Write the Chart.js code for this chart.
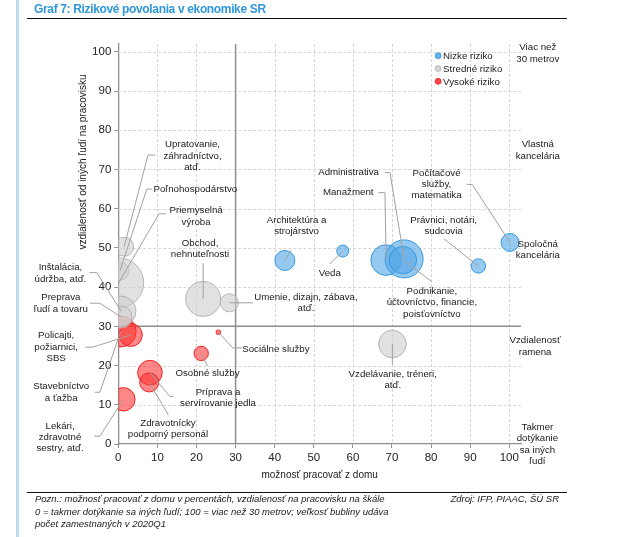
<!DOCTYPE html>
<html lang="sk">
<head>
<meta charset="utf-8">
<script src="https://cdn.jsdelivr.net/npm/chart.js@4.4.1/dist/chart.umd.min.js"></script>
<style>
html,body{margin:0;padding:0;background:#fff;}
#page{position:relative;width:622px;height:537px;overflow:hidden;font-family:"Liberation Sans",Arial,sans-serif;color:#1a1a1a;background:#fff;}
#chartbox{position:absolute;left:0;top:0;width:622px;height:537px;}
#bar{position:absolute;left:16px;top:0;width:3px;height:537px;background:#b9dcf4;}
#title{position:absolute;left:34px;top:1px;font-size:12px;line-height:16px;font-weight:bold;color:#2f97da;letter-spacing:-0.35px;white-space:nowrap;}
.rule{position:absolute;left:27px;width:540px;height:1px;background:#111;}
#note{position:absolute;left:35px;top:493px;font-size:9.5px;line-height:12.7px;font-style:italic;white-space:nowrap;}
#source{position:absolute;right:63px;top:493px;font-size:9.5px;line-height:12.7px;font-style:italic;white-space:nowrap;}
</style>
</head>
<body>
<div id="page">
  <div id="chartbox"><canvas id="c"></canvas></div>
  <div id="bar"></div>
  <div id="title">Graf 7: Rizikové povolania v ekonomike SR</div>
  <div class="rule" style="top:18px"></div>
  <div class="rule" style="top:492px"></div>
  <div id="note">Pozn.: možnosť pracovať z domu v percentách, vzdialenosť na pracovisku na škále<br>0 = takmer dotýkanie sa iných ľudí; 100 = viac než 30 metrov; veľkosť bubliny udáva<br>počet zamestnaných v 2020Q1</div>
  <div id="source">Zdroj: IFP, PIAAC, ŠÚ SR</div>
</div>
<script>
// ---- data ----
const xTicks = [0, 10, 20, 30, 40, 50, 60, 70, 80, 90, 100];
const yTicks = [0, 10, 20, 30, 40, 50, 60, 70, 80, 90, 100];
const riskGroups = ['Nizke riziko', 'Stredné riziko', 'Vysoké riziko'];

const lowRiskNames = ['Architektúra a strojárstvo', 'Veda', 'Manažment', 'Administrativa',
  'Podnikanie, účtovníctvo, financie, poisťovníctvo', 'Právnici, notári, sudcovia', 'Počítačové služby, matematika'];
const lowRiskHome = [42.6, 57.4, 68.5, 73.1, 72.8, 92.1, 100.2];
const lowRiskDistance = [46.8, 49.2, 46.9, 47.2, 46.9, 45.4, 51.4];
const lowRiskSize = [10, 6, 15.3, 19, 13.7, 7.2, 9];

const midRiskNames = ['Upratovanie, záhradníctvo, atď.', 'Poľnohospodárstvo', 'Priemyselná výroba',
  'Inštalácia, údržba, atď.', 'Preprava ľudí a tovaru', 'Obchod, nehnuteľnosti', 'Umenie, dizajn, zábava, atď.',
  'Vzdelávanie, tréneri, atď.'];
const midRiskHome = [1.5, 0.4, 0.1, 0.7, 0.7, 21.7, 28.4, 70.1];
const midRiskDistance = [50.3, 44.1, 41.1, 33.9, 32.4, 37.0, 36.0, 25.5];
const midRiskSize = [9.5, 9, 25, 15, 11, 17.5, 9, 13.8];

const highRiskNames = ['Stavebníctvo a ťažba', 'Policajti, požiarnici, SBS', 'Lekári, zdravotné sestry, atď.',
  'Príprava a servírovanie jedla', 'Zdravotnícky podporný personál', 'Osobné služby', 'Sociálne služby'];
const highRiskHome = [0.6, 3.2, 1.3, 8.1, 7.9, 21.2, 25.6];
const highRiskDistance = [28.7, 27.8, 11.4, 18.2, 15.7, 23.1, 28.5];
const highRiskSize = [15.5, 11.5, 11.7, 12.3, 9.5, 7.2, 2.3];

// ---- annotation layout (data units) ----
const bubbleLabels = [
  {lines: ['Upratovanie,', 'záhradníctvo,', 'atď.'], at: [19.0, 76.3], leader: [[9.4, 73.7], [7.6, 73.7]], target: [1, 0]},
  {lines: ['Poľnohospodárstvo'], at: [19.7, 65.0], leader: [[8.6, 65.0], [7.3, 65.0]], target: [1, 1]},
  {lines: ['Priemyselná', 'výroba'], at: [19.9, 59.5], leader: [[12.2, 58.7], [10.4, 58.7]], target: [1, 2]},
  {lines: ['Obchod,', 'nehnuteľnosti'], at: [20.9, 51.2], leader: [[21.7, 46.1]], target: [1, 5]},
  {lines: ['Architektúra a', 'strojárstvo'], at: [45.6, 57.1], leader: [[44.2, 49.5]], target: [0, 0]},
  {lines: ['Administrativa'], at: [58.9, 69.2], leader: [[68.2, 69.2], [69.5, 69.2]], target: [0, 3]},
  {lines: ['Manažment'], at: [58.8, 64.1], leader: [[66.5, 64.1], [68.2, 64.1]], target: [0, 2]},
  {lines: ['Počítačové', 'služby,', 'matematika'], at: [81.4, 69.1], leader: [[89.1, 66.2], [90.5, 66.2]], target: [0, 6]},
  {lines: ['Právnici, notári,', 'sudcovia'], at: [83.2, 57.1], leader: [[83.3, 52.3]], target: [0, 5]},
  {lines: ['Veda'], at: [54.1, 43.5], leader: [[54.1, 45.9]], target: [0, 1]},
  {lines: ['Podnikanie,', 'účtovníctvo, financie,', 'poisťovníctvo'], at: [80.2, 39.0], leader: [[80.2, 41.4]], target: [0, 4]},
  {lines: ['Umenie, dizajn, zábava,', 'atď.'], at: [48.0, 37.4], leader: [[34.4, 36.0]], target: [1, 6]},
  {lines: ['Sociálne služby'], at: [40.3, 24.2], leader: [[31.6, 24.5], [29.3, 24.5]], target: [2, 6]},
  {lines: ['Osobné služby'], at: [22.8, 18.0], leader: [[22.8, 19.9]], target: [2, 5]},
  {lines: ['Príprava a', 'servírovanie jedla'], at: [25.5, 13.3], leader: [[14.1, 12.1], [13.2, 12.1]], target: [2, 3]},
  {lines: ['Zdravotnícky', 'podporný personál'], at: [12.7, 5.4], leader: [[12.8, 7.4]], target: [2, 4]},
  {lines: ['Vzdelávanie, tréneri,', 'atď.'], at: [70.2, 17.8], leader: [[70.1, 20.2]], target: [1, 7]},
  {lines: ['Inštalácia,', 'údržba, atď.'], at: [-14.8, 45.0], leader: [[-7.4, 43.7], [-5.5, 43.7]], target: [1, 3]},
  {lines: ['Preprava', 'ľudí a tovaru'], at: [-14.7, 37.3], leader: [[-7.2, 35.9], [-4.7, 35.9]], target: [1, 4]},
  {lines: ['Policajti,', 'požiarnici,', 'SBS'], at: [-15.9, 27.6], leader: [[-8.5, 24.7], [-6.5, 24.7]], target: [2, 1]},
  {lines: ['Stavebníctvo', 'a ťažba'], at: [-14.6, 14.6], leader: [[-6.0, 13.2], [-4.7, 13.2]], target: [2, 0]},
  {lines: ['Lekári,', 'zdravotné', 'sestry, atď.'], at: [-14.9, 4.6], leader: [[-6.2, 2.0], [-4.7, 2.0]], target: [2, 2]}
];
const distanceLabels = [
  {lines: ['Viac než', '30 metrov'], at: [107.3, 101.1]},
  {lines: ['Vlastná', 'kancelária'], at: [107.3, 76.3]},
  {lines: ['Spoločná', 'kancelária'], at: [107.3, 50.9]},
  {lines: ['Vzdialenosť', 'ramena'], at: [106.6, 26.4]},
  {lines: ['Takmer', 'dotýkanie', 'sa iných', 'ľudí'], at: [107.2, 4.3]}
];
const legendAt = [81.8, 99.0];
const xTitle = 'možnosť pracovať z domu';
const yTitle = 'vzdialenosť od iných ľudí na pracovisku';

// ---- styles ----
const FONT = '"Liberation Sans", Arial, sans-serif';
const TEXT = '#1a1a1a';
const fills = ['rgba(86,168,230,0.62)', 'rgba(206,206,206,0.62)', 'rgba(255,48,48,0.58)'];
const borders = ['rgba(45,150,222,0.95)', 'rgba(178,178,178,0.95)', 'rgba(238,28,28,0.95)'];
const LINE_H = 11.4;

function pts(xs, ys, rs) { return xs.map((x, i) => ({x: x, y: ys[i], r: rs[i]})); }

const annotPlugin = {
  id: 'annot',
  beforeDatasetsDraw(chart) {
    const {ctx, chartArea: a, scales: {x, y}} = chart;
    ctx.save();
    ctx.lineWidth = 1;
    ctx.strokeStyle = '#d6d6d6';
    ctx.setLineDash([3, 2]);
    xTicks.forEach(v => {
      if (v === 0 || v === 30) return;
      const px = Math.round(x.getPixelForValue(v)) + 0.5;
      ctx.beginPath(); ctx.moveTo(px, a.top); ctx.lineTo(px, a.bottom); ctx.stroke();
    });
    yTicks.forEach(v => {
      if (v === 0 || v === 30) return;
      const py = Math.round(y.getPixelForValue(v)) + 0.5;
      ctx.beginPath(); ctx.moveTo(a.left, py); ctx.lineTo(a.right, py); ctx.stroke();
    });
    ctx.setLineDash([]);
    ctx.strokeStyle = '#8f8f8f';
    ctx.lineWidth = 1.5;
    const qx = x.getPixelForValue(30), qy = y.getPixelForValue(30);
    ctx.beginPath(); ctx.moveTo(qx, a.top); ctx.lineTo(qx, a.bottom); ctx.stroke();
    ctx.beginPath(); ctx.moveTo(a.left, qy); ctx.lineTo(a.right, qy); ctx.stroke();
    ctx.restore();
  },
  afterDatasetsDraw(chart) {
    const {ctx, chartArea: a, scales: {x, y}} = chart;
    const ds = chart.data.datasets;
    ctx.save();
    // leaders
    ctx.strokeStyle = '#a0a0a0';
    ctx.lineWidth = 1;
    bubbleLabels.forEach(l => {
      const p = ds[l.target[0]].data[l.target[1]];
      ctx.beginPath();
      l.leader.forEach((q, i) => {
        const px = x.getPixelForValue(q[0]), py = y.getPixelForValue(q[1]);
        if (i === 0) ctx.moveTo(px, py); else ctx.lineTo(px, py);
      });
      ctx.lineTo(x.getPixelForValue(p.x), y.getPixelForValue(p.y));
      ctx.stroke();
    });
    // texts
    ctx.fillStyle = TEXT;
    ctx.font = '9.7px ' + FONT;
    ctx.textAlign = 'center';
    ctx.textBaseline = 'middle';
    bubbleLabels.concat(distanceLabels).forEach(l => {
      const px = x.getPixelForValue(l.at[0]), py = y.getPixelForValue(l.at[1]);
      l.lines.forEach((t, i) => ctx.fillText(t, px, py + i * LINE_H));
    });
    // legend
    const lx = x.getPixelForValue(legendAt[0]), ly = y.getPixelForValue(legendAt[1]);
    ctx.textAlign = 'left';
    riskGroups.forEach((g, i) => {
      const cy = ly + i * 12.8;
      ctx.beginPath(); ctx.arc(lx, cy, 3, 0, Math.PI * 2);
      ctx.fillStyle = fills[i].replace(/[\d.]+\)$/, '0.9)'); ctx.fill();
      ctx.strokeStyle = borders[i]; ctx.lineWidth = 0.8; ctx.stroke();
      ctx.fillStyle = TEXT;
      ctx.fillText(g, lx + 5, cy + 0.5);
    });
    // axis titles
    ctx.font = '10px ' + FONT;
    ctx.textAlign = 'center';
    ctx.fillText(xTitle, (a.left + a.right) / 2, a.bottom + 31);
    ctx.translate(a.left - 35, a.top + 118);
    ctx.rotate(-Math.PI / 2);
    ctx.fillText(yTitle, 0, 0);
    ctx.restore();
  }
};

function fixedAxis(size, isY) {
  return function (scale) {
    if (isY) scale.width = size; else scale.height = size;
    scale.paddingLeft = 0; scale.paddingRight = 0; scale.paddingTop = 0; scale.paddingBottom = 0;
  };
}

new Chart(document.getElementById('c'), {
  type: 'bubble',
  data: {
    datasets: [
      {label: riskGroups[0], data: pts(lowRiskHome, lowRiskDistance, lowRiskSize), names: lowRiskNames},
      {label: riskGroups[1], data: pts(midRiskHome, midRiskDistance, midRiskSize), names: midRiskNames},
      {label: riskGroups[2], data: pts(highRiskHome, highRiskDistance, highRiskSize), names: highRiskNames}
    ].map((d, i) => Object.assign(d, {backgroundColor: fills[i], borderColor: borders[i], borderWidth: 1, clip: 0}))
  },
  options: {
    responsive: true,
    maintainAspectRatio: false,
    animation: false,
    events: [],
    layout: {padding: {left: 73.3, right: 101, top: 44, bottom: 63}},
    plugins: {legend: {display: false}, tooltip: {enabled: false}},
    scales: {
      x: {
        type: 'linear', min: 0, max: 103,
        afterBuildTicks: s => { s.ticks = xTicks.map(v => ({value: v})); },
        afterFit: fixedAxis(30, false),
        ticks: {font: {family: FONT, size: 11.5}, color: '#222', padding: 3, maxRotation: 0, autoSkip: false},
        grid: {drawOnChartArea: false, drawTicks: true, tickLength: 4, tickColor: '#8f8f8f', lineWidth: 1},
        border: {color: '#8f8f8f', width: 1.3}
      },
      y: {
        type: 'linear', min: 0, max: 102,
        afterBuildTicks: s => { s.ticks = yTicks.map(v => ({value: v})); },
        afterFit: fixedAxis(45, true),
        ticks: {font: {family: FONT, size: 11.5}, color: '#222', padding: 3, autoSkip: false},
        grid: {drawOnChartArea: false, drawTicks: true, tickLength: 4, tickColor: '#8f8f8f', lineWidth: 1},
        border: {color: '#8f8f8f', width: 1.3}
      }
    }
  },
  plugins: [annotPlugin]
});
</script>
</body>
</html>
